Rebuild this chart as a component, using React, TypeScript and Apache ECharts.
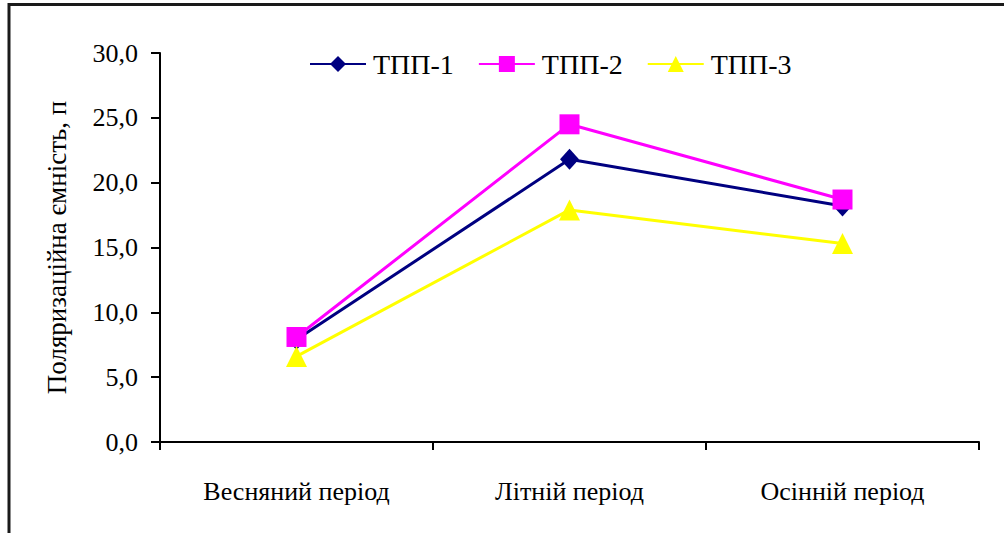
import React, { useEffect, useRef } from "react";
import * as echarts from "echarts";

const categories = ["Весняний період", "Літній період", "Осінній період"];
const tpp1 = [7.9, 21.8, 18.2];
const tpp2 = [8.1, 24.5, 18.7];
const tpp3 = [6.6, 17.9, 15.3];
const seriesNames = ["ТПП-1", "ТПП-2", "ТПП-3"];
const yTitle = "Поляризаційна ємність, п";

const FONT = "Liberation Serif";

export default function App() {
  const ref = useRef<HTMLDivElement>(null);

  useEffect(() => {
    if (!ref.current) return;
    const chart = echarts.init(ref.current, null, { renderer: "svg" });
    const lineSeries = (name: string, data: number[], color: string, symbol: string, size: number | number[]) => ({
      name,
      type: "line",
      data,
      symbol,
      symbolSize: size,
      showSymbol: true,
      lineStyle: { color, width: 3 },
      itemStyle: { color, borderWidth: 0 },
    });
    chart.setOption({
      animation: false,
      backgroundColor: "#ffffff",
      textStyle: { fontFamily: FONT, color: "#000" },
      graphic: [
        { type: "line", shape: { x1: 8, y1: 4.5, x2: 1004, y2: 4.5 }, style: { stroke: "#1a1a1a", lineWidth: 3 } },
        { type: "line", shape: { x1: 9, y1: 3, x2: 9, y2: 533 }, style: { stroke: "#1a1a1a", lineWidth: 3 } },
      ],
      legend: {
        top: 45,
        left: 304,
        itemWidth: 56,
        itemHeight: 20,
        itemGap: 24,
        textStyle: { fontFamily: FONT, fontSize: 28, color: "#000", padding: [0, 0, 0, 2] },
        data: seriesNames,
      },
      grid: { left: 160, right: 25, top: 53, bottom: 91, containLabel: false },
      xAxis: {
        type: "category",
        data: categories,
        boundaryGap: true,
        axisLine: { lineStyle: { color: "#000", width: 2 } },
        axisTick: { show: true, length: 8, lineStyle: { color: "#000", width: 2 } },
        axisLabel: { fontFamily: FONT, fontSize: 26, color: "#000", margin: 36 },
      },
      yAxis: {
        type: "value",
        min: 0,
        max: 30,
        interval: 5,
        name: yTitle,
        nameLocation: "middle",
        nameGap: 90,
        nameTextStyle: { fontFamily: FONT, fontSize: 27, color: "#000" },
        axisLine: { show: true, lineStyle: { color: "#000", width: 2 } },
        axisTick: { show: true, inside: false, length: 9, lineStyle: { color: "#000", width: 2 } },
        axisLabel: {
          fontFamily: FONT,
          fontSize: 26,
          color: "#000",
          margin: 22,
          formatter: (v: number) => v.toFixed(1).replace(".", ","),
        },
        splitLine: { show: false },
      },
      series: [
        lineSeries(seriesNames[0], tpp1, "#000080", "diamond", [19, 21]),
        lineSeries(seriesNames[1], tpp2, "#ff00ff", "rect", 20),
        lineSeries(seriesNames[2], tpp3, "#ffff00", "triangle", 21),
      ],
    });
    return () => chart.dispose();
  }, []);

  return (
    <div
      ref={ref}
      style={{ position: "fixed", left: 0, top: 0, width: 1004, height: 533 }}
    />
  );
}
